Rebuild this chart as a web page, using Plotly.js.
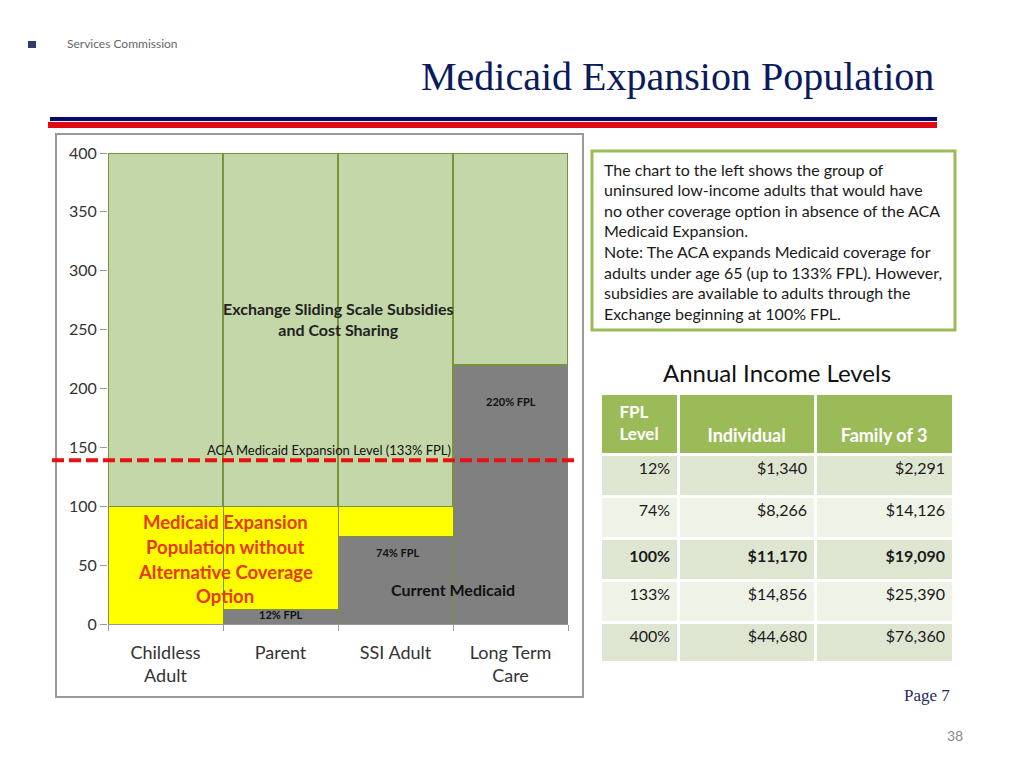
<!DOCTYPE html>
<html>
<head>
<meta charset="utf-8">
<script src="https://cdn.plot.ly/plotly-3.0.1.min.js"></script>
<style>html,body{margin:0;padding:0;background:#fff;}#chart{width:1024px;height:768px;}</style>
</head>
<body>
<div id="chart"></div>
<script>
// ---- data ----
var categories = ['Childless Adult', 'Parent', 'SSI Adult', 'Long Term Care'];
var categoryLabels = ['Childless<br>Adult', 'Parent', 'SSI Adult', 'Long Term<br>Care'];
var currentMedicaid = [0, 12, 74, 220];
var expansionGap = [100, 88, 26, 0];
var exchangeSubsidies = [300, 300, 300, 180];
var acaExpansionLevel = 139;
var yTicks = [0, 50, 100, 150, 200, 250, 300, 350, 400];

var fplLevels = ['12%', '74%', '100%', '133%', '400%'];
var individualIncome = ['$1,340', '$8,266', '$11,170', '$14,856', '$44,680'];
var familyIncome = ['$2,291', '$14,126', '$19,090', '$25,390', '$76,360'];
var boldRow = '100%';
var tableHeaders = [['FPL', 'Level'], ['\u00a0', 'Individual'], ['\u00a0', 'Family of 3']];

var noteLines = [
  'The chart to the left shows the group of',
  'uninsured low-income adults that would have',
  'no other coverage option in absence of the ACA',
  'Medicaid Expansion.',
  'Note: The ACA expands Medicaid coverage for',
  'adults under age 65 (up to 133% FPL). However,',
  'subsidies are available to adults through the',
  'Exchange beginning at 100% FPL.'
];
var expansionLabelLines = ['Medicaid Expansion', 'Population without', 'Alternative Coverage', 'Option'];

// ---- helpers (page pixel -> paper) ----
var W = 1024, H = 768;
function X(px) { return px / W; }
function Y(py) { return 1 - py / H; }
var FONT = 'Lato, "Open Sans", "DejaVu Sans", sans-serif';
var SERIF = '"Liberation Serif", "DejaVu Serif", serif';
var olive = '#77933C';

// ---- traces ----
var traces = [
  {type: 'bar', x: categories, y: currentMedicaid, name: 'Current Medicaid',
   marker: {color: '#808080', line: {color: olive, width: 1}}, hoverinfo: 'skip'},
  {type: 'bar', x: categories, y: expansionGap, name: 'Medicaid Expansion',
   marker: {color: '#FFFF00', line: {color: olive, width: 1}}, hoverinfo: 'skip'},
  {type: 'bar', x: categories, y: exchangeSubsidies, name: 'Exchange',
   marker: {color: '#C4D7A8', line: {color: olive, width: 1.5}}, hoverinfo: 'skip'}
];

function bold(v, i) { return fplLevels[i] === boldRow ? '<b>' + v + '</b>' : v; }
var rowFill = fplLevels.map(function (d, i) { return i % 2 === 0 ? '#DEE6D2' : '#EEF2E7'; });
traces.push({
  type: 'table',
  domain: {x: [X(600), X(953)], y: [Y(661), Y(393)]},
  columnwidth: [77, 135, 136],
  header: {
    values: tableHeaders.map(function (h) {
      return h.map(function (line) { return '<b>' + line + '</b>'; }).join('<br>');
    }),
    align: 'center', height: 29,
    fill: {color: '#9BBB59'},
    line: {color: '#ffffff', width: 3},
    font: {family: FONT, size: [17, 18, 18], color: '#ffffff'}
  },
  cells: {
    values: [fplLevels.map(bold), individualIncome.map(bold), familyIncome.map(bold)],
    align: 'right', height: 42,
    fill: {color: [rowFill, rowFill, rowFill]},
    line: {color: '#ffffff', width: 3},
    font: {family: FONT, size: 16, color: '#1a1a1a'}
  }
});

// ---- annotations ----
var ann = [];
function pageText(px, py, text, font, xanchor) {
  ann.push({xref: 'paper', yref: 'paper', x: X(px), y: Y(py), text: text, showarrow: false,
    xanchor: xanchor || 'center', yanchor: 'middle', font: font});
}
function dataText(x, y, text, font) {
  ann.push({xref: 'x', yref: 'y', x: x, y: y, text: text, showarrow: false,
    xanchor: 'center', yanchor: 'middle', font: font});
}
pageText(677, 76, 'Medicaid Expansion Population', {family: SERIF, size: 40, color: '#0B1A5C'});
pageText(65, 43, 'Services Commission', {family: FONT, size: 12, color: '#666'}, 'left');
dataText(1.5, 259, '<b>Exchange Sliding Scale Subsidies<br>and Cost Sharing</b>', {family: FONT, size: 16, color: '#222'});
dataText(3.0, 189, '<b>220% FPL</b>', {family: FONT, size: 11, color: '#111'});
dataText(1.42, 148, 'ACA Medicaid Expansion Level (133% FPL)', {family: FONT, size: 13, color: '#111'});
dataText(2.02, 61, '<b>74% FPL</b>', {family: FONT, size: 11, color: '#111'});
dataText(1.0, 8, '<b>12% FPL</b>', {family: FONT, size: 11, color: '#111'});
dataText(2.5, 29, '<b>Current Medicaid</b>', {family: FONT, size: 16, color: '#111'});
var redY = [86.6, 65.4, 44.2, 23.8];
expansionLabelLines.forEach(function (t, i) {
  dataText(0.52, redY[i], '<b>' + t + '</b>', {family: FONT, size: 18.5, color: '#E8380D'});
});
noteLines.forEach(function (t, i) {
  pageText(602, 169 + i * 20.6, t, {family: FONT, size: 16, color: '#1a1a1a'}, 'left');
});
pageText(777, 372, 'Annual Income Levels', {family: FONT, size: 24, color: '#111'});
pageText(952, 695, 'Page 7', {family: SERIF, size: 17, color: '#1F2A5C'}, 'right');
pageText(955, 735, '38', {family: FONT, size: 14, color: '#888'});

// ---- shapes ----
var shapes = [
  {type: 'rect', xref: 'paper', yref: 'paper', x0: X(50), x1: X(937), y0: Y(117), y1: Y(121),
   fillcolor: '#0A0A6E', line: {width: 0}, layer: 'below'},
  {type: 'rect', xref: 'paper', yref: 'paper', x0: X(48), x1: X(937), y0: Y(122), y1: Y(128),
   fillcolor: '#E00A14', line: {width: 0}, layer: 'below'},
  {type: 'rect', xref: 'paper', yref: 'paper', x0: X(28), x1: X(36), y0: Y(48), y1: Y(41),
   fillcolor: '#2E3A78', line: {width: 0}, layer: 'below'},
  {type: 'rect', xref: 'paper', yref: 'paper', x0: X(56), x1: X(583), y0: Y(697), y1: Y(134),
   fillcolor: 'rgba(0,0,0,0)', line: {color: '#9A9A9A', width: 2}, layer: 'below'},
  {type: 'rect', xref: 'paper', yref: 'paper', x0: X(592), x1: X(955), y0: Y(330), y1: Y(151),
   fillcolor: '#ffffff', line: {color: '#9BBB59', width: 3}, layer: 'below'},
  {type: 'line', xref: 'paper', yref: 'y', x0: X(52), x1: X(575), y0: acaExpansionLevel, y1: acaExpansionLevel,
   line: {color: '#E81010', width: 4, dash: '12px,5px'}, layer: 'above'}
];

var layout = {
  width: W, height: H,
  margin: {l: 0, r: 0, t: 0, b: 0},
  paper_bgcolor: '#ffffff', plot_bgcolor: '#ffffff',
  barmode: 'stack', bargap: 0,
  showlegend: false,
  font: {family: FONT},
  xaxis: {
    domain: [X(108), X(568)], type: 'category', range: [-0.5, 3.5],
    tickmode: 'array', tickvals: categories, ticktext: categoryLabels,
    tickson: 'boundaries', ticks: 'outside', ticklen: 6, tickcolor: '#999',
    ticklabelstandoff: 12,
    showline: true, linecolor: '#999', linewidth: 1,
    showgrid: false, zeroline: false,
    tickfont: {family: FONT, size: 18, color: '#333'}, fixedrange: true
  },
  yaxis: {
    domain: [Y(624), Y(153)], range: [0, 400],
    tickmode: 'array', tickvals: yTicks,
    ticks: 'outside', ticklen: 7, tickcolor: '#999',
    showline: false, showgrid: false, zeroline: false,
    tickfont: {family: FONT, size: 16, color: '#333'}, fixedrange: true
  },
  annotations: ann,
  shapes: shapes
};

Plotly.newPlot('chart', traces, layout, {displayModeBar: false, staticPlot: true});
</script>
</body>
</html>
